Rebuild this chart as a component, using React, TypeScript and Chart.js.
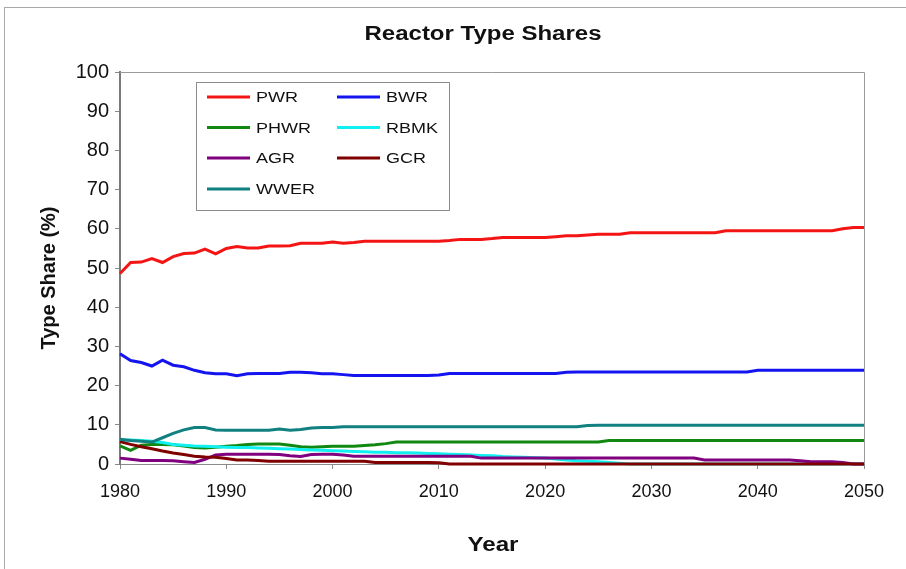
import React, { useEffect, useRef } from "react";
import { Chart, registerables } from "chart.js";

Chart.register(...registerables);

const years: number[] = Array.from({ length: 71 }, (_, i) => 1980 + i);

const seriesNames = ["PWR", "BWR", "PHWR", "RBMK", "AGR", "GCR", "WWER"];

// 1980 ... 2050 (one value per year)
const pwr = [
  48.6, 51.4, 51.5, 52.4, 51.4, 52.9, 53.7, 53.8, 54.8, 53.6,
  55.0, 55.5, 55.1, 55.1, 55.6, 55.6, 55.7, 56.3, 56.3, 56.3,
  56.6, 56.3, 56.5, 56.8, 56.8, 56.8, 56.8, 56.8, 56.8, 56.8,
  56.8, 57.0, 57.3, 57.3, 57.3, 57.5, 57.8, 57.8, 57.8, 57.8,
  57.8, 58.0, 58.2, 58.2, 58.4, 58.6, 58.6, 58.6, 59.0, 59.0,
  59.0, 59.0, 59.0, 59.0, 59.0, 59.0, 59.0, 59.5, 59.5, 59.5,
  59.5, 59.5, 59.5, 59.5, 59.5, 59.5, 59.5, 59.5, 60.0, 60.3,
  60.3,
];
const bwr = [
  28.1, 26.4, 25.9, 25.0, 26.5, 25.2, 24.8, 23.9, 23.3, 23.0,
  23.0, 22.5, 23.0, 23.1, 23.1, 23.1, 23.4, 23.4, 23.3, 23.0,
  23.0, 22.8, 22.6, 22.6, 22.6, 22.6, 22.6, 22.6, 22.6, 22.6,
  22.7, 23.1, 23.1, 23.1, 23.1, 23.1, 23.1, 23.1, 23.1, 23.1,
  23.1, 23.1, 23.4, 23.5, 23.5, 23.5, 23.5, 23.5, 23.5, 23.5,
  23.5, 23.5, 23.5, 23.5, 23.5, 23.5, 23.5, 23.5, 23.5, 23.5,
  23.9, 23.9, 23.9, 23.9, 23.9, 23.9, 23.9, 23.9, 23.9, 23.9,
  23.9,
];
const phwr = [
  4.6, 3.5, 4.8, 5.0, 5.0, 4.9, 4.6, 4.2, 4.1, 4.3,
  4.5, 4.7, 5.0, 5.1, 5.1, 5.1, 4.8, 4.4, 4.3, 4.4,
  4.5, 4.5, 4.5, 4.7, 4.9, 5.2, 5.6, 5.6, 5.6, 5.6,
  5.6, 5.6, 5.6, 5.6, 5.6, 5.6, 5.6, 5.6, 5.6, 5.6,
  5.6, 5.6, 5.6, 5.6, 5.6, 5.6, 6.0, 6.0, 6.0, 6.0,
  6.0, 6.0, 6.0, 6.0, 6.0, 6.0, 6.0, 6.0, 6.0, 6.0,
  6.0, 6.0, 6.0, 6.0, 6.0, 6.0, 6.0, 6.0, 6.0, 6.0,
  6.0,
];
const rbmk = [
  6.0, 6.1, 6.0, 5.8, 5.5, 5.0, 4.8, 4.6, 4.5, 4.4,
  4.3, 4.2, 4.2, 4.1, 4.0, 3.9, 3.8, 3.7, 3.6, 3.5,
  3.4, 3.3, 3.2, 3.1, 3.0, 3.0, 2.9, 2.9, 2.8, 2.7,
  2.6, 2.5, 2.4, 2.3, 2.2, 2.1, 1.9, 1.8, 1.7, 1.6,
  1.5, 1.3, 1.0, 0.8, 0.7, 0.6, 0.4, 0.2, 0, 0,
  0, 0, 0, 0, 0, 0, 0, 0, 0, 0,
  0, 0, 0, 0, 0, 0, 0, 0, 0, 0,
  0,
];
const agr = [
  1.5, 1.2, 0.9, 0.9, 0.9, 0.8, 0.6, 0.4, 1.2, 2.3,
  2.5, 2.5, 2.5, 2.5, 2.5, 2.4, 2.1, 1.9, 2.4, 2.5,
  2.5, 2.3, 2.0, 2.0, 2.0, 2.0, 2.0, 2.0, 2.0, 2.0,
  2.0, 2.0, 2.0, 2.0, 1.5, 1.5, 1.5, 1.5, 1.5, 1.5,
  1.5, 1.5, 1.5, 1.5, 1.5, 1.5, 1.5, 1.5, 1.5, 1.5,
  1.5, 1.5, 1.5, 1.5, 1.5, 1.0, 1.0, 1.0, 1.0, 1.0,
  1.0, 1.0, 1.0, 1.0, 0.8, 0.6, 0.6, 0.6, 0.4, 0,
  0,
];
const gcr = [
  5.7, 5.0, 4.4, 3.9, 3.3, 2.8, 2.4, 2.0, 1.8, 1.7,
  1.4, 1.0, 1.0, 0.9, 0.7, 0.7, 0.7, 0.7, 0.7, 0.7,
  0.7, 0.7, 0.7, 0.7, 0.4, 0.4, 0.4, 0.4, 0.4, 0.4,
  0.3, 0, 0, 0, 0, 0, 0, 0, 0, 0,
  0, 0, 0, 0, 0, 0, 0, 0, 0, 0,
  0, 0, 0, 0, 0, 0, 0, 0, 0, 0,
  0, 0, 0, 0, 0, 0, 0, 0, 0, 0,
  0,
];
const wwer = [
  6.3, 6.0, 5.8, 5.6, 6.7, 7.8, 8.7, 9.3, 9.3, 8.7,
  8.6, 8.6, 8.6, 8.6, 8.6, 8.9, 8.6, 8.8, 9.2, 9.3,
  9.3, 9.5, 9.5, 9.5, 9.5, 9.5, 9.5, 9.5, 9.5, 9.5,
  9.5, 9.5, 9.5, 9.5, 9.5, 9.5, 9.5, 9.5, 9.5, 9.5,
  9.5, 9.5, 9.5, 9.5, 9.8, 9.9, 9.9, 9.9, 9.9, 9.9,
  9.9, 9.9, 9.9, 9.9, 9.9, 9.9, 9.9, 9.9, 9.9, 9.9,
  9.9, 9.9, 9.9, 9.9, 9.9, 9.9, 9.9, 9.9, 9.9, 9.9,
  9.9,
];

const seriesValues = [pwr, bwr, phwr, rbmk, agr, gcr, wwer];
const seriesColors = ["#f51414", "#1414f0", "#118811", "#10f0f0", "#800080", "#800000", "#108080"];

const xTicks = [1980, 1990, 2000, 2010, 2020, 2030, 2040, 2050];
const yTicks = [0, 10, 20, 30, 40, 50, 60, 70, 80, 90, 100];

const chartTitle = "Reactor Type Shares";
const xTitle = "Year";
const yTitle = "Type Share (%)";

const FONT = "'Liberation Sans', Arial, sans-serif";

function stretchedText(ctx: CanvasRenderingContext2D, text: string, x: number, y: number, sx: number, align: CanvasTextAlign) {
  ctx.save();
  ctx.translate(x, y);
  ctx.scale(sx, 1);
  ctx.textAlign = align;
  ctx.fillText(text, 0, 0);
  ctx.restore();
}

const decor = {
  id: "decor",
  beforeDraw(chart: any) {
    const ctx: CanvasRenderingContext2D = chart.ctx;
    ctx.save();
    ctx.fillStyle = "#ffffff";
    ctx.fillRect(0, 0, chart.width, chart.height);
    ctx.strokeStyle = "#a8a8a8";
    ctx.lineWidth = 1;
    ctx.strokeRect(4.5, 7.5, chart.width + 20, chart.height + 20);
    ctx.fillStyle = "#111";
    ctx.textBaseline = "alphabetic";
    ctx.font = `bold 20px ${FONT}`;
    stretchedText(ctx, chartTitle, 483, 40, 1.2, "center");
    ctx.font = `bold 21px ${FONT}`;
    stretchedText(ctx, xTitle, 493, 551, 1.15, "center");
    ctx.save();
    ctx.translate(55, 278);
    ctx.rotate(-Math.PI / 2);
    ctx.font = `bold 20px ${FONT}`;
    ctx.textAlign = "center";
    ctx.fillText(yTitle, 0, 0);
    ctx.restore();
    ctx.restore();
  },
  beforeDatasetsDraw(chart: any) {
    const ctx: CanvasRenderingContext2D = chart.ctx;
    const a = chart.chartArea;
    ctx.save();
    ctx.strokeStyle = "#9a9a9a";
    ctx.lineWidth = 1;
    ctx.beginPath();
    ctx.moveTo(Math.round(a.left), Math.round(a.top) + 0.5);
    ctx.lineTo(Math.round(a.right) + 0.5, Math.round(a.top) + 0.5);
    ctx.lineTo(Math.round(a.right) + 0.5, Math.round(a.bottom));
    ctx.stroke();
    ctx.restore();
  },
  afterDatasetsDraw(chart: any) {
    const ctx: CanvasRenderingContext2D = chart.ctx;
    ctx.save();
    const bx = 196.5, by = 82.5, bw = 253, bh = 128;
    ctx.fillStyle = "#ffffff";
    ctx.fillRect(bx, by, bw, bh);
    ctx.strokeStyle = "#8c8c8c";
    ctx.lineWidth = 1;
    ctx.strokeRect(bx, by, bw, bh);
    ctx.font = `15px ${FONT}`;
    ctx.textBaseline = "middle";
    const colX = [207, 337];
    const rowY = [97, 127.5, 158, 189];
    chart.data.datasets.forEach((ds: any, i: number) => {
      const c = i % 2;
      const r = Math.floor(i / 2);
      const x = colX[c];
      const y = rowY[r];
      ctx.strokeStyle = ds.borderColor;
      ctx.lineWidth = 3;
      ctx.beginPath();
      ctx.moveTo(x, y);
      ctx.lineTo(x + 43, y);
      ctx.stroke();
      ctx.fillStyle = "#111";
      stretchedText(ctx, ds.label, x + 49, y + 1, 1.2, "left");
    });
    ctx.restore();
  },
};

export default function App() {
  const canvasRef = useRef<HTMLCanvasElement | null>(null);

  useEffect(() => {
    if (!canvasRef.current) return;
    const datasets = seriesNames.map((name, i) => ({
      label: name,
      data: years.map((yr, j) => ({ x: yr, y: seriesValues[i][j] })),
      borderColor: seriesColors[i],
      backgroundColor: seriesColors[i],
      borderWidth: 3,
      pointRadius: 0,
      tension: 0,
      fill: false,
      clip: false as any,
      order: seriesNames.length - 1 - i,
    }));
    const chart = new Chart(canvasRef.current, {
      type: "line",
      data: { datasets },
      options: {
        responsive: false,
        animation: false,
        devicePixelRatio: 1,
        layout: { padding: { left: 0, right: 42, top: 72, bottom: 0 } },
        plugins: {
          legend: { display: false },
          title: { display: false },
          tooltip: { enabled: false },
        },
        scales: {
          x: {
            type: "linear",
            min: 1980,
            max: 2050,
            afterFit: (s: any) => {
              s.height = 105;
            },
            afterBuildTicks: (s: any) => {
              s.ticks = xTicks.map((v) => ({ value: v }));
            },
            ticks: {
              autoSkip: false,
              maxRotation: 0,
              padding: 12,
              color: "#111",
              font: { family: FONT, size: 18 },
              callback: (v: any) => String(v),
            },
            grid: {
              display: true,
              drawOnChartArea: false,
              drawTicks: true,
              tickLength: 5,
              color: "#8a8a8a",
            },
            border: { display: true, color: "#8a8a8a", width: 1 },
          },
          y: {
            type: "linear",
            min: 0,
            max: 100,
            afterFit: (s: any) => {
              s.width = 120;
            },
            afterBuildTicks: (s: any) => {
              s.ticks = yTicks.map((v) => ({ value: v }));
            },
            ticks: {
              padding: 6,
              color: "#111",
              font: { family: FONT, size: 20 },
              callback: (v: any) => String(v),
            },
            grid: {
              display: true,
              drawOnChartArea: false,
              drawTicks: true,
              tickLength: 5,
              color: "#8a8a8a",
            },
            border: { display: true, color: "#7a7a7a", width: 2 },
          },
        },
      },
      plugins: [decor as any],
    });
    return () => chart.destroy();
  }, []);

  return (
    <div style={{ position: "absolute", left: 0, top: 0, width: 906, height: 569, background: "#fff" }}>
      <canvas ref={canvasRef} width={906} height={569} style={{ display: "block", width: 906, height: 569 }} />
    </div>
  );
}
